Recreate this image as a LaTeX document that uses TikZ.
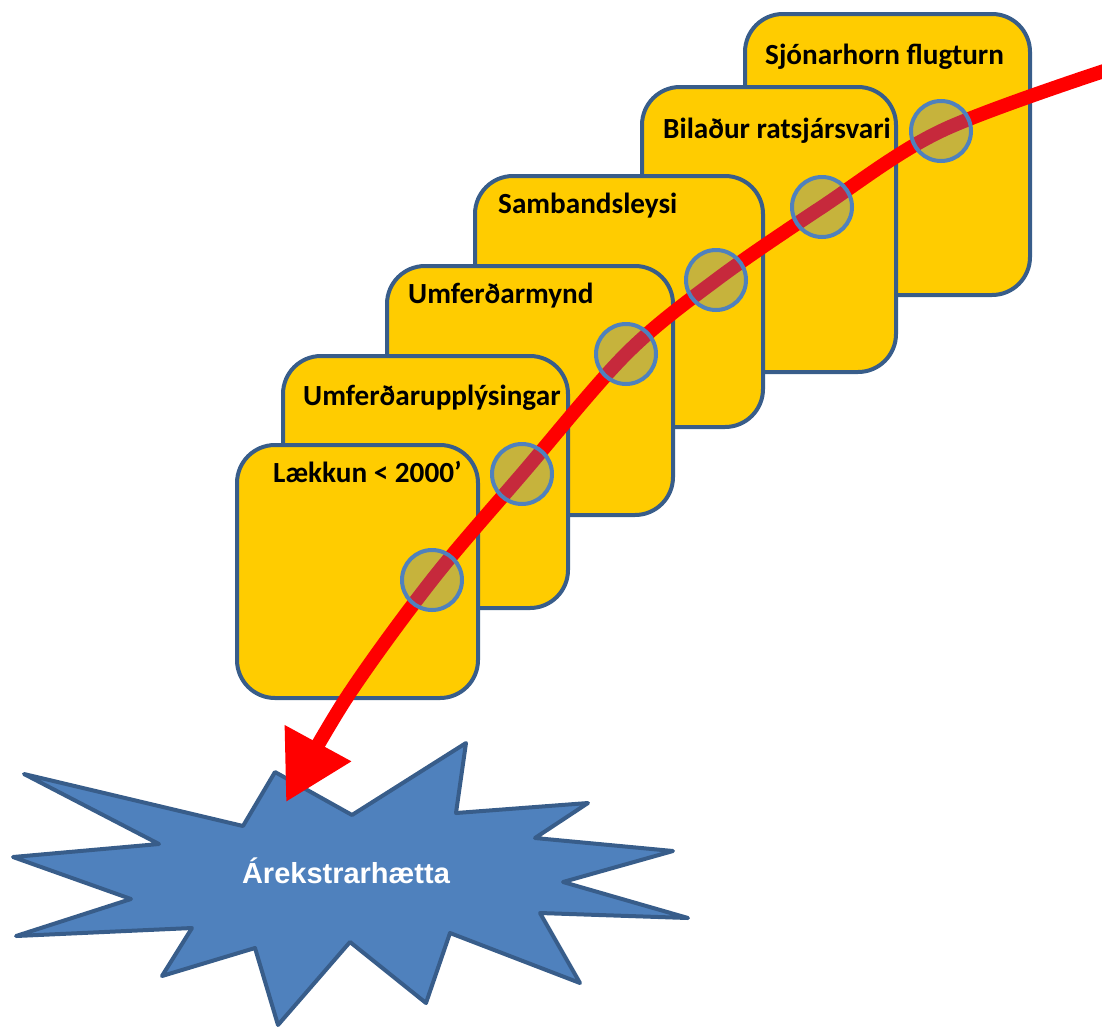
\documentclass[tikz,border=0pt]{standalone}
\usepackage{fontspec}
\setmainfont{Carlito}
\newfontfamily\crashfont{Liberation Sans}
\usetikzlibrary{arrows.meta}
\definecolor{layerfill}{HTML}{FFCC00}
\definecolor{layeredge}{HTML}{385D8A}
\definecolor{holeblue}{HTML}{4F81BD}
\tikzset{>=latex,
  layer/.style={draw=layeredge, fill=layerfill, line width=4pt, rounded corners=38pt,
    anchor=north west, inner sep=0pt, outer sep=0pt},
  layertext/.style={anchor=base west, inner sep=0pt, font=\bfseries\fontsize{29.2}{31}\selectfont},
  hole/.style={circle, draw=holeblue, line width=4pt, fill=holeblue, fill opacity=0.32,
    minimum size=60pt, inner sep=0pt},
  crash/.style={draw=layeredge, fill=holeblue, line width=4pt, line join=round},
  crashtext/.style={anchor=base, inner sep=0pt, text=white, font=\crashfont\bfseries\fontsize{29}{31}\selectfont},
  trajectory/.style={draw=red, line width=14pt, -{Triangle[length=67pt, width=72pt]}}}

\begin{document}
\begin{tikzpicture}[x=1pt, y=-1pt]
    \useasboundingbox (0,0) rectangle (1102,1028);
    % layers, back to front
    \node[layer, minimum width=285pt, minimum height=281pt] (b6) at (745,14) {};
    \node[layertext] (t6) at (765,64) {Sjónarhorn flugturn};
    \node[layer, minimum width=254pt, minimum height=285pt] (b5) at (642,87) {};
    \node[layertext] (t5) at (663,138) {Bilaður ratsjársvari};
    \node[layer, minimum width=288pt, minimum height=251pt] (b4) at (475,176) {};
    \node[layertext] (t4) at (498,213) {Sambandsleysi};
    \node[layer, minimum width=286pt, minimum height=249pt] (b3) at (387,266) {};
    \node[layertext] (t3) at (408,303) {Umferðarmynd};
    \node[layer, minimum width=285pt, minimum height=252pt] (b2) at (283,356) {};
    \node[layertext] (t2) at (303,405) {Umferðarupplýsingar};
    \node[layer, minimum width=241pt, minimum height=253pt] (b1) at (237,445) {};
    \node[layertext] (t1) at (273,482) {Lækkun < 2000’};
    % the crash
    \draw[crash] (275,772) -- (352,815) -- (466,743) -- (456,813) -- (588,803) -- (535,838)
      -- (673,851) -- (563,882) -- (688,918) -- (540,913) -- (580,983) -- (450,933)
      -- (426,1003) -- (350,942) -- (278,1025) -- (255,948) -- (162,976) -- (192,928)
      -- (16,936) -- (131,899) -- (13,857) -- (159,844) -- (24,774) -- (243,826) -- cycle;
    \node[crashtext] (crash) at (346,883) {Árekstrarhætta};
    % holes and the trajectory through them
    \coordinate (h1) at (432,580);
    \coordinate (h2) at (522,474);
    \coordinate (h3) at (626,354);
    \coordinate (h4) at (716,280);
    \coordinate (h5) at (822,207);
    \coordinate (h6) at (941,131);
    \coordinate (entry) at (1110,69);
    \coordinate (exit) at (347,697);
    \coordinate (impact) at (286,802);
    \draw[trajectory] plot[smooth, tension=0.55] coordinates {(entry) (h6) (h5) (h4) (h3) (h2) (h1) (exit) (impact)};
    \foreach \i in {1,...,6}
      \node[hole] (c\i) at (h\i) {};
\end{tikzpicture}
\end{document}
